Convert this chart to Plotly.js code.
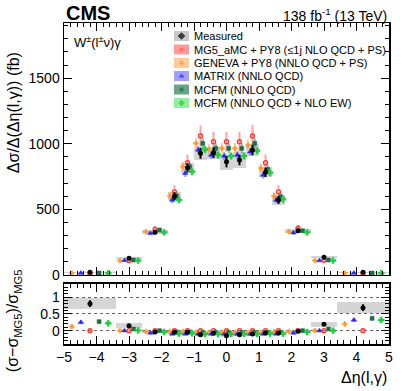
<!DOCTYPE html>
<html>
<head>
<meta charset="utf-8">
<script src="https://cdn.plot.ly/plotly-3.0.1.min.js"></script>
<style>
  body { margin: 0; background: #fff; }
  #graph { width: 407px; height: 391px; }
</style>
</head>
<body>
<div id="graph"></div>
<script>
// bin edges in delta eta(l, gamma)
var binEdges = [-5, -3.4, -2.6, -1.8, -1.4, -1.0, -0.6, -0.2, 0.2, 0.6, 1.0, 1.4, 1.8, 2.6, 3.4, 5];

// upper panel, fb
var measured    = [21, 127, 325, 600, 817, 927, 931, 863, 876, 952, 782, 571, 337, 135, 21];
var measuredErr = [4, 8, 15, 30, 35, 42, 40, 43, 40, 40, 35, 30, 15, 8, 4];
var measuredSys = [4, 7, 14, 32, 40, 50, 48, 60, 60, 48, 38, 35, 14, 7, 4];
var mg5      = [12, 110, 348, 634, 855, 1059, 1015, 1015, 1015, 1059, 855, 634, 356, 112, 12];
var mg5Err   = [3, 10, 25, 50, 63, 80, 75, 75, 75, 85, 63, 50, 25, 10, 3];
var geneva   = [14, 110, 330, 602, 825, 1003, 957, 965, 965, 990, 813, 602, 330, 110, 14];
var genevaErr = [3, 8, 18, 30, 35, 40, 40, 40, 40, 40, 35, 30, 18, 8, 3];
var matrix   = [15, 110, 318, 571, 775, 952, 914, 906, 914, 939, 762, 571, 322, 110, 15];
var matrixErr = [3, 6, 14, 25, 28, 30, 30, 30, 30, 30, 28, 25, 14, 6, 3];
var mcfm     = [15, 114, 343, 602, 825, 1003, 965, 965, 965, 1003, 805, 596, 337, 114, 15];
var mcfmErr  = [3, 7, 15, 28, 32, 38, 38, 38, 38, 38, 32, 28, 15, 7, 3];
var mcfmEw   = [14, 110, 325, 571, 787, 957, 914, 906, 906, 947, 779, 577, 325, 110, 14];
var mcfmEwErr = [3, 6, 14, 25, 28, 30, 30, 30, 30, 30, 28, 25, 14, 6, 3];

// lower panel, (sigma - sigma_MG5)/sigma_MG5
var ratioMeasured    = [0.81, 0.15, -0.04, -0.05, -0.05, -0.12, -0.08, -0.15, -0.12, -0.10, -0.07, -0.07, -0.02, 0.19, 0.69];
var ratioMeasuredErr = [0.1, 0.04, 0.03, 0.04, 0.04, 0.04, 0.04, 0.04, 0.04, 0.04, 0.04, 0.04, 0.03, 0.04, 0.1];
var ratioMeasuredSys = [0.17, 0.085, 0.04, 0.04, 0.04, 0.05, 0.05, 0.05, 0.05, 0.05, 0.04, 0.04, 0.04, 0.07, 0.17];
var ratioMg5     = [0, 0, 0, 0, 0, 0, 0, 0, 0, 0, 0, 0, 0, 0, 0];
var ratioGeneva  = [0.12, 0.0, -0.03, -0.03, -0.03, -0.05, -0.05, -0.05, -0.05, -0.06, -0.05, -0.04, -0.03, 0.0, 0.2];
var ratioMatrix  = [0.25, 0.0, -0.07, -0.1, -0.1, -0.1, -0.1, -0.1, -0.1, -0.1, -0.1, -0.1, -0.07, 0.0, 0.32];
var ratioMcfm    = [0.27, 0.05, 0.0, -0.04, -0.04, -0.05, -0.05, -0.05, -0.05, -0.05, -0.05, -0.05, 0.0, 0.05, 0.37];
var ratioMcfmEw  = [0.22, 0.01, -0.04, -0.09, -0.08, -0.1, -0.1, -0.1, -0.1, -0.1, -0.09, -0.09, -0.04, 0.0, 0.32];
var ratioModelErr = [0.06, 0.03, 0.02, 0.02, 0.02, 0.02, 0.02, 0.02, 0.02, 0.02, 0.02, 0.02, 0.02, 0.03, 0.06];

var legendLabels = ['Measured', 'MG5_aMC + PY8 (≤1j NLO QCD + PS)', 'GENEVA + PY8 (NNLO QCD + PS)',
                    'MATRIX (NNLO QCD)', 'MCFM (NNLO QCD)', 'MCFM (NNLO QCD + NLO EW)'];

var centers = [], widths = [];
for (var i = 0; i < binEdges.length - 1; i++) {
    centers.push((binEdges[i] + binEdges[i + 1]) / 2);
    widths.push(binEdges[i + 1] - binEdges[i]);
}
function shifted(k) {
    return centers.map(function(c, i) { return c + k * 0.175 * widths[i]; });
}

var models = [
    {name: legendLabels[2], y: geneva, err: genevaErr, r: ratioGeneva, k: -2, color: '#ff9933', ecol: 'rgba(255,175,100,0.65)', box: '#ffcc99', symbol: 'cross', size: 4},
    {name: legendLabels[3], y: matrix, err: matrixErr, r: ratioMatrix, k: -1, color: '#2b2bff', ecol: 'rgba(100,100,255,0.65)', box: '#9f9fff', symbol: 'triangle-up', size: 5},
    {name: legendLabels[1], y: mg5, err: mg5Err, r: ratioMg5, k: 0, color: '#ff3333', ecol: 'rgba(255,100,100,0.6)', box: '#ff9a9a', symbol: 'circle-open', size: 4},
    {name: legendLabels[4], y: mcfm, err: mcfmErr, r: ratioMcfm, k: 1, color: '#1f6e4a', ecol: 'rgba(70,150,110,0.65)', box: '#68a585', symbol: 'square', size: 4},
    {name: legendLabels[5], y: mcfmEw, err: mcfmEwErr, r: ratioMcfmEw, k: 2, color: '#22cc44', ecol: 'rgba(90,225,120,0.65)', box: '#93ef9f', symbol: 'cross', size: 5}
];

var data = [];
// grey boxes for measured uncertainty
data.push({
    type: 'bar', x: centers, width: widths,
    base: measured.map(function(v, i) { return v - measuredSys[i]; }),
    y: measuredSys.map(function(s) { return 2 * s; }),
    marker: {color: 'rgba(185,185,185,0.6)', line: {width: 0}},
    xaxis: 'x', yaxis: 'y', hoverinfo: 'skip'
});
data.push({
    type: 'bar', x: centers, width: widths,
    base: ratioMeasured.map(function(v, i) { return v - ratioMeasuredSys[i]; }),
    y: ratioMeasuredSys.map(function(s) { return 2 * s; }),
    marker: {color: 'rgba(185,185,185,0.6)', line: {width: 0}},
    xaxis: 'x2', yaxis: 'y2', hoverinfo: 'skip'
});

models.forEach(function(m) {
    var mk = {color: m.color, symbol: m.symbol, size: m.size, line: {color: m.color, width: m.symbol == 'circle-open' ? 1.3 : 0.5}};
    data.push({
        type: 'scatter', mode: 'markers', x: shifted(m.k), y: m.y,
        error_y: {type: 'data', array: m.err, color: m.ecol, thickness: 2, width: 0},
        marker: mk, xaxis: 'x', yaxis: 'y'
    });
    data.push({
        type: 'scatter', mode: 'markers', x: shifted(m.k), y: m.r,
        error_y: {type: 'data', array: ratioModelErr, color: m.ecol, thickness: 2, width: 0},
        marker: mk, xaxis: 'x2', yaxis: 'y2'
    });
});

data.push({
    type: 'scatter', mode: 'markers', x: centers, y: measured,
    error_y: {type: 'data', array: measuredErr, color: '#000', thickness: 2, width: 0},
    marker: {color: '#000', size: 5}, xaxis: 'x', yaxis: 'y'
});
data.push({
    type: 'scatter', mode: 'markers', x: centers, y: ratioMeasured,
    error_y: {type: 'data', array: ratioMeasuredErr, color: '#000', thickness: 2, width: 0},
    marker: {color: '#000', size: 5}, xaxis: 'x2', yaxis: 'y2'
});

// legend drawn on a pixel-like overlay axis
var legRows = [36, 49.5, 63, 76, 89.5, 103];
var legStyle = [
    {box: '#c8c8c8', color: '#000', symbol: 'diamond', size: 5},
    {box: models[2].box, color: models[2].color, symbol: 'circle-open', size: 3},
    {box: models[0].box, color: models[0].color, symbol: 'cross', size: 3},
    {box: models[1].box, color: models[1].color, symbol: 'triangle-up', size: 4},
    {box: models[3].box, color: models[3].color, symbol: 'square', size: 3},
    {box: models[4].box, color: models[4].color, symbol: 'cross', size: 4}
];
var shapes = [];
var annotations = [];
legRows.forEach(function(ry, i) {
    shapes.push({type: 'rect', xref: 'x3', yref: 'y3', x0: 174, x1: 189, y0: ry - 5, y1: ry + 5,
                 fillcolor: legStyle[i].box, line: {width: 0}, layer: 'below'});
    annotations.push({xref: 'x3', yref: 'y3', x: 192, y: ry, text: legendLabels[i], showarrow: false,
                      xanchor: 'left', yanchor: 'middle', font: {size: 11, color: '#000'}});
});
data.push({
    type: 'scatter', mode: 'markers', x: legRows.map(function() { return 181.5; }), y: legRows,
    marker: {color: legStyle.map(function(s) { return s.color; }), symbol: legStyle.map(function(s) { return s.symbol; }),
             size: legStyle.map(function(s) { return s.size; }), line: {color: legStyle.map(function(s) { return s.color; }), width: 1}},
    xaxis: 'x3', yaxis: 'y3', hoverinfo: 'skip'
});

annotations.push(
    {xref: 'paper', yref: 'paper', x: 0, y: 1.031, xanchor: 'left', yanchor: 'middle', showarrow: false,
     text: '<b>CMS</b>', font: {size: 20, color: '#000'}},
    {xref: 'paper', yref: 'paper', x: 1, y: 1.026, xanchor: 'right', yanchor: 'middle', showarrow: false,
     text: '138 fb<sup>-1</sup> (13 TeV)', font: {size: 14, color: '#000'}},
    {xref: 'x3', yref: 'y3', x: 72, y: 42, xanchor: 'left', yanchor: 'middle', showarrow: false,
     text: 'W<sup>±</sup>(l<sup>±</sup>ν)γ', font: {size: 13, color: '#000'}},
    {xref: 'paper', yref: 'paper', x: -0.153, y: 0.72, xanchor: 'center', yanchor: 'middle', showarrow: false,
     textangle: -90, text: 'Δσ/Δ(Δη(l,γ)) (fb)', font: {size: 16, color: '#000'}},
    {xref: 'paper', yref: 'paper', x: -0.153, y: 0.072, xanchor: 'center', yanchor: 'middle', showarrow: false,
     textangle: -90, text: '(σ−σ<sub>MG5</sub>)/σ<sub>MG5</sub>', font: {size: 16, color: '#000'}},
    {xref: 'paper', yref: 'paper', x: 1, y: -0.103, xanchor: 'right', yanchor: 'middle', showarrow: false,
     text: 'Δη(l,γ)', font: {size: 16, color: '#000'}}
);

var axBase = {
    showline: true, linecolor: '#000', linewidth: 1.5, mirror: 'allticks',
    ticks: 'inside', ticklen: 8, tickwidth: 1, tickcolor: '#000',
    zeroline: false, showgrid: false, tickfont: {size: 14, color: '#000'}
};
function ax(extra) { return Object.assign({}, axBase, extra); }

var layout = {
    width: 407, height: 391,
    margin: {l: 64, r: 18, t: 23, b: 47},
    paper_bgcolor: '#fff', plot_bgcolor: 'rgba(0,0,0,0)',
    font: {family: 'Liberation Sans, Arial, sans-serif', color: '#000'},
    showlegend: false, barmode: 'overlay', bargap: 0,
    xaxis: ax({domain: [0, 1], range: [-5, 5], anchor: 'y', showticklabels: false, dtick: 1,
               minor: {dtick: 0.2, ticklen: 4, ticks: 'inside', tickcolor: '#000'}}),
    yaxis: ax({domain: [0.215, 1], range: [0, 1920], anchor: 'x', dtick: 500,
               minor: {dtick: 100, ticklen: 4, ticks: 'inside', tickcolor: '#000'}}),
    xaxis2: ax({domain: [0, 1], range: [-5, 5], anchor: 'y2', dtick: 1, tickformat: 'd',
                minor: {dtick: 0.2, ticklen: 4, ticks: 'inside', tickcolor: '#000'}}),
    yaxis2: ax({domain: [0, 0.187], range: [-0.4, 1.4], anchor: 'x2', tickvals: [0, 0.5, 1],
                ticktext: ['0', '0.5', '1'], showgrid: true, gridcolor: '#666', griddash: 'dot', gridwidth: 1,
                minor: {dtick: 0.1, ticklen: 4, ticks: 'inside', tickcolor: '#000'}}),
    xaxis3: {domain: [0, 1], range: [64, 389], anchor: 'y3', visible: false, fixedrange: true},
    yaxis3: {domain: [0, 1], range: [344, 23], anchor: 'x3', visible: false, fixedrange: true},
    shapes: shapes,
    annotations: annotations
};

Plotly.newPlot('graph', data, layout, {displayModeBar: false, staticPlot: true});
</script>
</body>
</html>
